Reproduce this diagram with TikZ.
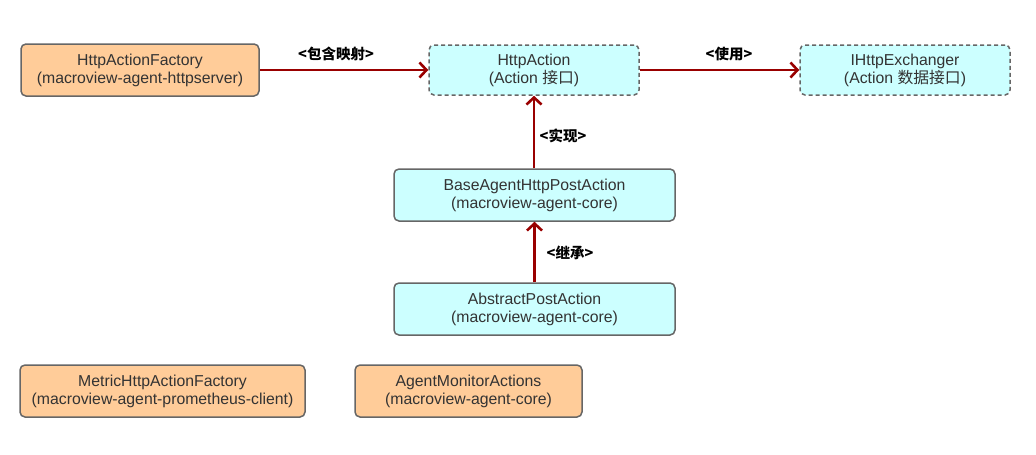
\documentclass[tikz,border=0pt]{standalone}
\usepackage{fontspec}
\setmainfont{Liberation Sans}
\newfontfamily\cjk{Noto Sans CJK SC}
\newcommand{\zh}[1]{{\cjk #1}}
\usetikzlibrary{arrows.meta}
\definecolor{boxorange}{HTML}{FFCC99}
\definecolor{boxcyan}{HTML}{CCFFFF}
\definecolor{boxline}{HTML}{666666}
\definecolor{arrred}{HTML}{990000}
\definecolor{txt}{HTML}{333333}
\begin{document}
\begin{tikzpicture}[x=1pt,y=-1pt,
  box/.style={draw=boxline, line width=1.5pt, rounded corners=5pt, text=txt,
    font=\fontsize{15.8}{18}\selectfont, align=center, inner sep=0pt},
  orangebox/.style={box, fill=boxorange},
  cyanbox/.style={box, fill=boxcyan},
  dashbox/.style={box, fill=boxcyan, dash pattern=on 4pt off 3pt},
  rel/.style={draw=arrred, line width=2.6pt, -{Straight Barb[length=7pt,width=15pt,line width=2.6pt]}},
  lbl/.style={font=\cjk\bfseries\fontsize{14.5}{16}\selectfont, text=black, inner sep=1pt}
]
\useasboundingbox (0,0) rectangle (1036,455);
\node[orangebox, minimum width=238pt, minimum height=52pt] (factory) at (140,70) {HttpActionFactory\\(macroview-agent-httpserver)};
\node[dashbox, minimum width=210pt, minimum height=50pt] (action) at (534,70) {HttpAction\\(Action \zh{接口})};
\node[dashbox, minimum width=210pt, minimum height=50pt] (exch) at (905,70) {IHttpExchanger\\(Action \zh{数据接口})};
\node[cyanbox, minimum width=281pt, minimum height=52pt] (base) at (534.5,195) {BaseAgentHttpPostAction\\(macroview-agent-core)};
\node[cyanbox, minimum width=281pt, minimum height=52pt] (abstract) at (534.5,309) {AbstractPostAction\\(macroview-agent-core)};
\node[orangebox, minimum width=285pt, minimum height=52pt] (metric) at (162.5,391) {MetricHttpActionFactory\\(macroview-agent-prometheus-client)};
\node[orangebox, minimum width=227pt, minimum height=52pt] (monitor) at (468.5,391) {AgentMonitorActions\\(macroview-agent-core)};

\draw[rel] (factory.east) -- (action.west);
\draw[rel] (action.east) -- (exch.west);
\draw[rel] (base.north -| action.south) -- (action.south);
\draw[rel] (abstract.north) -- (base.south);

\node[lbl] (l1) at (336,54) {<包含映射>};
\node[lbl] (l2) at (729,54) {<使用>};
\node[lbl] (l3) at (563,136) {<实现>};
\node[lbl] (l4) at (570,253) {<继承>};
\end{tikzpicture}
\end{document}
